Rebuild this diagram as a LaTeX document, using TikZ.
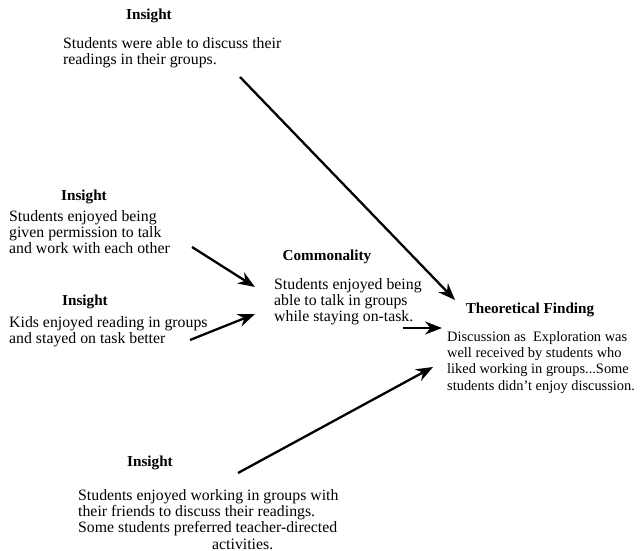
\documentclass[tikz,border=0pt]{standalone}
\usepackage{fontspec}
\setmainfont{Liberation Serif}
\usetikzlibrary{arrows.meta}

\begin{document}
\begin{tikzpicture}[x=1pt, y=-1pt,
        head/.style={inner sep=0pt, font=\fontsize{15.2}{16}\selectfont\bfseries},
        body/.style={anchor=north west, align=left, inner sep=0pt, font=\fontsize{15.8}{16.3}\selectfont},
        small/.style={body, font=\fontsize{14.4}{16.3}\selectfont},
        arr/.style={-{Stealth[length=17pt,width=13pt]}, line width=2.3pt}]
        \useasboundingbox (0,0) rectangle (641,551);
        % insights
        \node[head] (hTop) at (149,16) {Insight};
        \node[body] (insTop) at (63,37) {Students were able to discuss their\\readings in their groups.};
        \node[head] (hLeftA) at (84,197) {Insight};
        \node[body] (insLeftA) at (9,210) {Students enjoyed being\\given permission to talk\\and work with each other};
        \node[head] (hLeftB) at (85,302) {Insight};
        \node[body] (insLeftB) at (9,316) {Kids enjoyed reading in groups\\and stayed on task better};
        \node[head] (hBot) at (150,463) {Insight};
        \node[body] (insBot) at (78,489) {Students enjoyed working in groups with\\their friends to discuss their readings.\\Some students preferred teacher-directed\\\hspace*{134pt}activities.};
        % commonality and finding
        \node[head] (hCom) at (327,257) {Commonality};
        \node[body] (com) at (274,278) {Students enjoyed being\\able to talk in groups\\while staying on-task.};
        \node[head] (hFind) at (530,310) {Theoretical Finding};
        \node[small] (find) at (447,331) {Discussion as\ \ Exploration was\\well received by students who\\liked working in groups...Some\\students didn't enjoy discussion.};
        % arrows
        \draw[arr] ([shift={(177,40)}]insTop.north west) -- ([shift={(8,-31)}]find.north west);
        \draw[arr] ([shift={(183,37)}]insLeftA.north west) -- ([shift={(-19,9)}]com.north west);
        \draw[arr] ([shift={(181,24)}]insLeftB.north west) -- ([shift={(-19,36)}]com.north west);
        \draw[arr] ([shift={(129,50)}]com.north west) -- ([shift={(-5,-3)}]find.north west);
        \draw[arr] ([shift={(160,-16)}]insBot.north west) -- ([shift={(-14,36)}]find.north west);
\end{tikzpicture}
\end{document}
